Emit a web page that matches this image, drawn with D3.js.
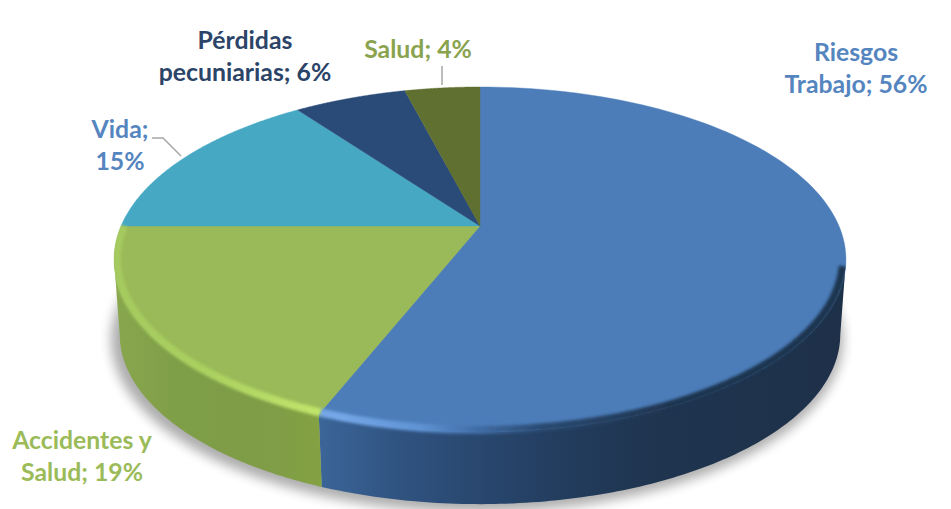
<!DOCTYPE html>
<html><head><meta charset="utf-8">
<script src="https://cdn.jsdelivr.net/npm/d3@7"></script>
<style>html,body{margin:0;background:#fff}svg{display:block}text{font-family:Lato,"Open Sans",sans-serif;font-weight:700;font-size:24.8px}</style>
</head><body><svg id="c" width="951" height="509"></svg>
<script>
const categories=["Riesgos Trabajo","Accidentes y Salud","Vida","Pérdidas pecuniarias","Salud"];
const values=[56,19,15,6,4];
const topColors=["#4c7db9","#9ab958","#47a8c4","#2a4b78","#5f7030"];
const labelColors=["#5585bf","#9bbb59","#5585bf","#2b4468","#8aa34e"];
const labelLines=[["Riesgos","Trabajo; 56%"],["Accidentes y","Salud; 19%"],["Vida;","15%"],["Pérdidas","pecuniarias; 6%"],["Salud; 4%"]];
const labelPos=[[856,61],[82,449],[120,138],[245,49],[418,58]];

const svg=d3.select("#c");
const defs=svg.append("defs");
const CX=480,APEX=226,A=359,B=166,K=.194,DEPTH=76;
const proj=(a,dy=0,s=1)=>{const X=Math.sin(a)*s,Y=Math.cos(a)*s,w=1+K*Y;return [CX+A*X/w,APEX-B*Y/w+dy]};
const pie=d3.pie().sort(null).value(d=>d).startAngle(0).endAngle(2*Math.PI)(values);
const line=d3.line();
const arcPts=(a0,a1,dy=0,s=1)=>d3.range(0,121).map(i=>proj(a0+(a1-a0)*i/120,dy,s));
const EDGE_R=Math.acos(-K),EDGE_L=2*Math.PI-EDGE_R;

const blur=(id,sd)=>defs.append("filter").attr("id",id).attr("x","-10%").attr("y","-10%").attr("width","120%").attr("height","120%").append("feGaussianBlur").attr("stdDeviation",sd);
blur("sh",6);blur("b1",1.6);
const grad=(id,stops,x1=100,x2=860)=>{const g=defs.append("linearGradient").attr("id",id).attr("gradientUnits","userSpaceOnUse").attr("x1",x1).attr("x2",x2).attr("y1",0).attr("y2",0);
 stops.forEach(s=>g.append("stop").attr("offset",s[0]).attr("stop-color",s[1]));};
grad("sideBlue",[[0,"#3f6aa0"],[.29,"#3b6598"],[.40,"#2f527f"],[.58,"#243f62"],[.72,"#1f3550"],[1,"#1e3048"]]);
grad("sideGreen",[[0,"#8aa94e"],[.1,"#7f9e48"],[.22,"#7f9c47"],[.29,"#84a242"]]);
grad("rimBlue",[[0,"#7fb0f0"],[.32,"#74a6e6"],[.42,"#5f93d4"],[.5,"#3f6ba3"],[.58,"#2a4a72"],[.75,"#1f3550"],[1,"#1f3550"]]);
grad("rimGreen",[[0,"#a4c95e"],[.14,"#aad05f"],[.29,"#c2e56c"]]);

const full=d3.range(0,181).map(i=>i/180*2*Math.PI);
svg.append("path").attr("d",line(full.map(a=>proj(a,DEPTH+1,1)))+"Z").attr("transform","translate(-3,3)").attr("fill","#000").attr("opacity",.32).attr("filter","url(#sh)");

// side walls
[[pie[0],"url(#sideBlue)"],[pie[1],"url(#sideGreen)"]].forEach(([p,fill])=>{
 const a0=Math.max(p.startAngle,EDGE_R),a1=Math.min(p.endAngle,EDGE_L);
 svg.append("path").attr("d",line(arcPts(a0,a1).concat(arcPts(a1,a0,DEPTH,.985)))+"Z").attr("fill",fill);
});
// top faces
pie.forEach((p,i)=>{
 svg.append("path").attr("d",line([proj(0,0,0)].concat(arcPts(p.startAngle,p.endAngle)))+"Z").attr("fill",topColors[i]).attr("stroke",topColors[i]).attr("stroke-width",.4);
});
// soft bevel on the rim
const clip=defs.append("clipPath").attr("id","disc");
[pie[0],pie[1]].forEach(p=>{
 const a0=Math.max(p.startAngle,EDGE_R),a1=Math.min(p.endAngle,EDGE_L);
 clip.append("path").attr("d",line(arcPts(a0,a1).concat(arcPts(a1,a0,DEPTH,.985)))+"Z");
});
clip.append("path").attr("d",line(full.map(a=>proj(a)))+"Z");
const rimG=svg.append("g").attr("clip-path","url(#disc)");
const rim=(p,stroke,w)=>rimG.append("path").attr("d",line(arcPts(Math.max(p.startAngle,EDGE_R+.04),Math.min(p.endAngle,3*Math.PI/2),0,.992))).attr("fill","none").attr("stroke",stroke).attr("stroke-width",w).attr("filter","url(#b1)");
rim(pie[0],"url(#rimBlue)",8);rim(pie[1],"url(#rimGreen)",8);

// leader lines
svg.append("path").attr("d",line([[442,85],[442,66]])).attr("fill","none").attr("stroke","#a6a6a6").attr("stroke-width",1.5);
svg.append("path").attr("d",line([[181,156],[163,138],[152,138]])).attr("fill","none").attr("stroke","#a6a6a6").attr("stroke-width",1.5);

// labels
categories.forEach((c,i)=>{
 const t=svg.append("text").attr("text-anchor","middle").attr("fill",labelColors[i]);
 labelLines[i].forEach((s,j)=>t.append("tspan").attr("x",labelPos[i][0]).attr("y",labelPos[i][1]+j*32).text(s));
});
</script></body></html>
